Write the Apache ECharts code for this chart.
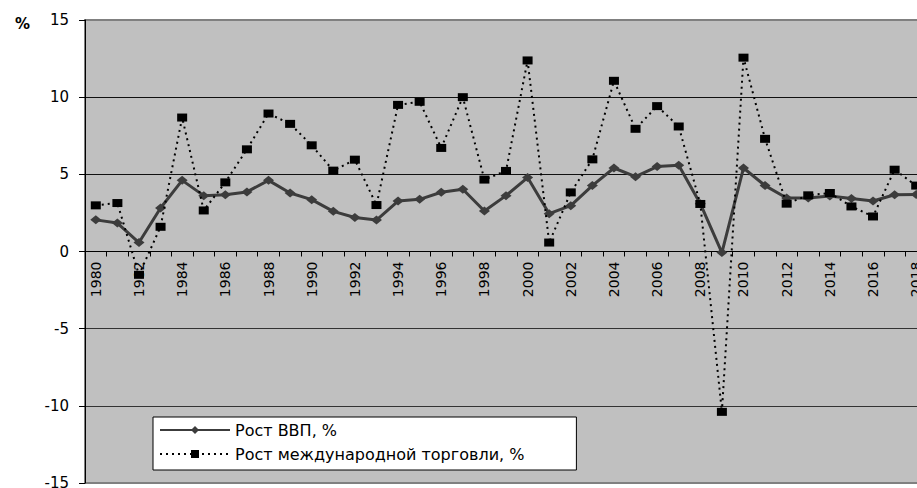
<!DOCTYPE html>
<html>
<head>
<meta charset="utf-8">
<script src="https://cdn.jsdelivr.net/npm/echarts@6/dist/echarts.min.js"></script>
<style>html,body{margin:0;padding:0;background:#fff;}#c{width:917px;height:488px;}</style>
</head>
<body>
<div id="c"></div>
<script>
var years = ['1980','1981','1982','1983','1984','1985','1986','1987','1988','1989',
  '1990','1991','1992','1993','1994','1995','1996','1997','1998','1999',
  '2000','2001','2002','2003','2004','2005','2006','2007','2008','2009',
  '2010','2011','2012','2013','2014','2015','2016','2017','2018'];
var gdpGrowth = [2.05,1.84,0.58,2.82,4.61,3.62,3.68,3.86,4.61,3.79,
  3.36,2.6,2.2,2.04,3.27,3.38,3.84,4.03,2.62,3.62,
  4.79,2.45,2.97,4.27,5.41,4.85,5.5,5.59,3.1,-0.07,
  5.41,4.27,3.47,3.47,3.6,3.44,3.27,3.68,3.7];
var tradeGrowth = [2.99,3.14,-1.51,1.6,8.68,2.66,4.48,6.62,8.94,8.27,
  6.88,5.24,5.95,3.01,9.5,9.7,6.71,10.0,4.66,5.22,
  12.38,0.58,3.83,5.97,11.06,7.95,9.42,8.1,3.08,-10.39,
  12.56,7.3,3.1,3.64,3.79,2.92,2.27,5.3,4.27];
var seriesNames = ['Рост ВВП, %', 'Рост международной торговли, %'];
var yMin = -15, yMax = 15, yStep = 5;

var font = 'DejaVu Sans';
var gridTop = 20, gridHeight = 463;
var chart = echarts.init(document.getElementById('c'), null, {renderer: 'svg'});
chart.setOption({
  animation: false,
  backgroundColor: '#ffffff',
  title: {
    text: '%', left: 10, top: 11,
    textStyle: {fontFamily: font, fontSize: 15, fontWeight: 'bold', color: '#000'}
  },
  grid: {
    left: 85, top: gridTop, width: 842, height: gridHeight,
    outerBoundsMode: 'none', containLabel: false,
    show: true, backgroundColor: '#c0c0c0', borderColor: '#808080', borderWidth: 2
  },
  legend: {
    orient: 'vertical', left: 153, top: 417,
    padding: [5, 52, 8, 6], itemGap: 8,
    itemWidth: 70, itemHeight: 10,
    backgroundColor: '#ffffff', borderColor: '#000000', borderWidth: 1,
    textStyle: {fontFamily: font, fontSize: 16, color: '#000'},
    data: seriesNames
  },
  xAxis: {
    type: 'category', data: years, boundaryGap: true,
    position: 'bottom',
    offset: -gridHeight * (0 - yMin) / (yMax - yMin),
    axisLine: {onZero: false, lineStyle: {color: '#000', width: 1}},
    axisTick: {show: true, interval: 0, length: 5, lineStyle: {color: '#000'}},
    axisLabel: {interval: 1, rotate: 90, margin: 10, hideOverlap: false, fontFamily: font, fontSize: 14, color: '#000'},
    splitLine: {show: false}
  },
  yAxis: {
    type: 'value', min: yMin, max: yMax, interval: yStep,
    axisLine: {show: true, lineStyle: {color: '#000', width: 1}},
    axisTick: {show: true, length: 6, lineStyle: {color: '#000'}},
    axisLabel: {margin: 16, fontFamily: font, fontSize: 15, color: '#000'},
    splitLine: {show: true, lineStyle: {color: ['#808080','#333','#333','#000','#111','#111','#808080'], width: 1}}
  },
  series: [
    {
      name: seriesNames[0], type: 'line', data: gdpGrowth,
      symbol: 'diamond', symbolSize: [11, 9], showAllSymbol: true,
      lineStyle: {color: '#3c3c3c', width: 3},
      itemStyle: {color: '#3c3c3c'},
      z: 3
    },
    {
      name: seriesNames[1], type: 'line', data: tradeGrowth,
      symbol: 'rect', symbolSize: [10, 8], showAllSymbol: true,
      lineStyle: {color: '#000', width: 2, type: [2, 4]},
      itemStyle: {color: '#000'},
      z: 4
    }
  ]
});
</script>
</body>
</html>
